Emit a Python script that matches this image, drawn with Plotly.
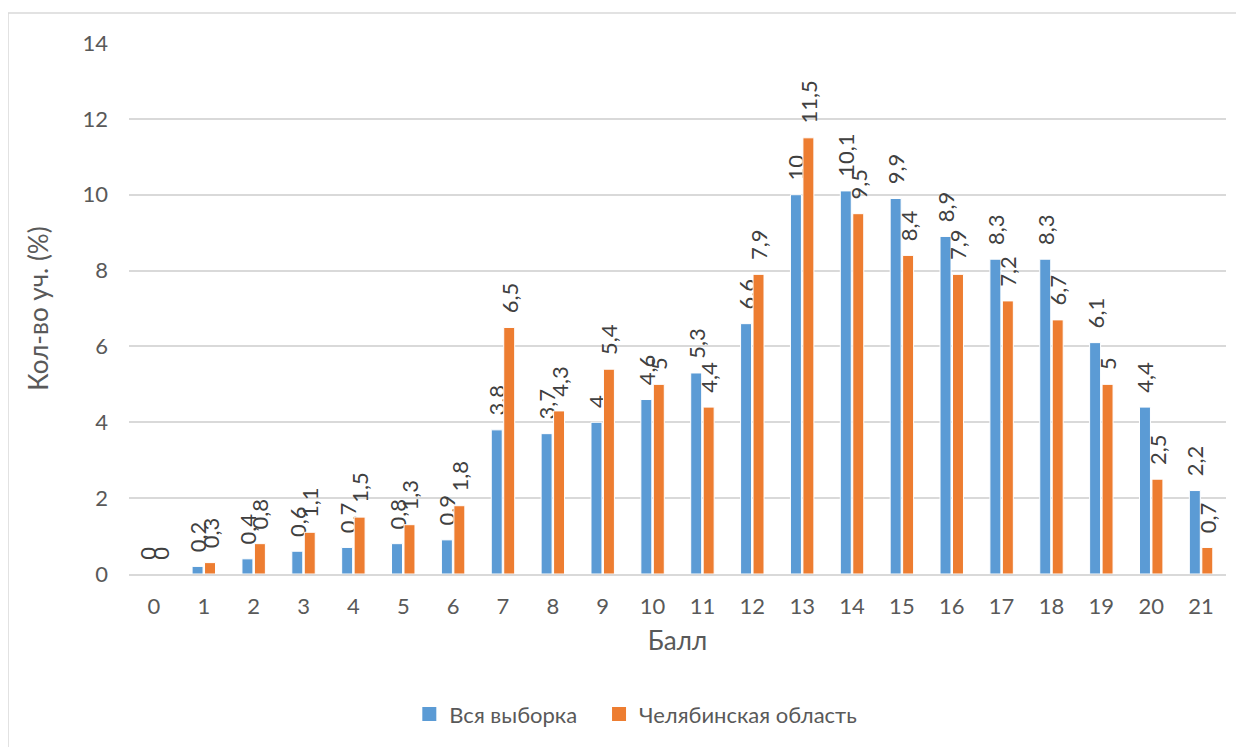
import plotly.graph_objects as go

# баллы 0..21
scores = [str(i) for i in range(22)]
all_sample = [0, 0.2, 0.4, 0.6, 0.7, 0.8, 0.9, 3.8, 3.7, 4, 4.6, 5.3, 6.6, 10, 10.1, 9.9, 8.9, 8.3, 8.3, 6.1, 4.4, 2.2]
chelyabinsk = [0, 0.3, 0.8, 1.1, 1.5, 1.3, 1.8, 6.5, 4.3, 5.4, 5, 4.4, 7.9, 11.5, 9.5, 8.4, 7.9, 7.2, 6.7, 5, 2.5, 0.7]
series_names = ["Вся выборка", "Челябинская область"]
colors = ["#5B9BD5", "#ED7D31"]

FONT = "Lato"
GRAY = "#595959"
FS = 22


def fmt(v):
    s = ("%g" % v).replace(".", ",")
    return "\u00a0\u00a0" + s


fig = go.Figure()
for name, vals, col in zip(series_names, [all_sample, chelyabinsk], colors):
    fig.add_trace(go.Bar(x=scores, y=vals, name=name, showlegend=False,
                         marker=dict(color=col, line=dict(color="white", width=1)),
                         text=[fmt(v) for v in vals], textposition="outside",
                         textangle=-90, constraintext="none", cliponaxis=False,
                         textfont=dict(family=FONT, size=FS, color="#404040")))
# квадратные значки легенды
for i, (name, col) in enumerate(zip(series_names, colors)):
    label = name + ("\u00a0\u00a0\u00a0" if i == 0 else "")
    fig.add_trace(go.Scatter(x=[None], y=[None], mode="markers", name=label,
                             marker=dict(symbol="square", size=14, color=col)))

fig.update_layout(
    width=1244, height=747,
    margin=dict(l=121, r=26, t=35, b=181),
    paper_bgcolor="white", plot_bgcolor="white",
    font=dict(family=FONT, size=FS, color=GRAY),
    barmode="group", bargap=0.5, bargroupgap=0.12,
    showlegend=True,
    legend=dict(orientation="h", x=0.462, xanchor="center", y=-0.264, yanchor="middle",
                font=dict(size=FS, color=GRAY), itemwidth=30, traceorder="normal"),
    xaxis=dict(title=dict(text="Балл", standoff=14), showgrid=False,
               showline=True, linecolor="#D9D9D9", linewidth=1.5, ticks="",
               ticklabelstandoff=12, tickfont=dict(size=FS, color=GRAY)),
    yaxis=dict(title=dict(text="Кол-во уч. (%)", standoff=26), range=[0, 14], dtick=2,
               showgrid=True, gridcolor="#D9D9D9", gridwidth=1.5, zeroline=False,
               ticks="", ticklabelstandoff=20, tickfont=dict(size=FS, color=GRAY)),
)

# рамка области диаграммы
fig.add_shape(type="rect", xref="paper", yref="paper",
              x0=(0 - 121) / 1097, x1=(1229 - 121) / 1097,
              y0=-0.5, y1=(566 - 5) / 531,
              line=dict(color="#D9D9D9", width=1.5), fillcolor="rgba(0,0,0,0)", layer="below")

fig.write_html("out.html")
